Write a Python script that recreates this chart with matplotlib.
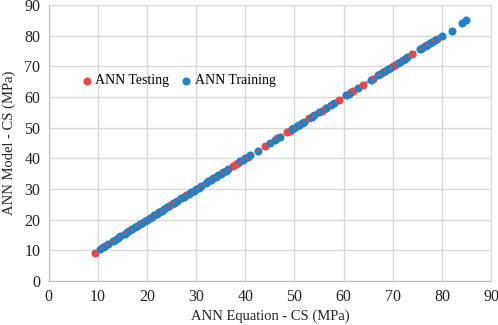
import numpy as np
import matplotlib
matplotlib.use("Agg")
import matplotlib.pyplot as plt

# ANN Training points (x = ANN Equation, y = ANN Model)
train_x = [10.5, 11, 11.5, 12, 13, 13.5, 14, 14.5, 15.5, 16, 17, 17.5, 18, 18.5, 19,
           19.5, 20, 20.5, 21, 21.5, 22, 22.5, 23, 23.5, 24, 25.5, 26, 27, 27.5, 28.5,
           29, 29.5, 30, 30.5, 31, 32, 32.5, 33, 33.5, 34, 34.5, 35, 35.5, 36, 36.5,
           39, 39.5, 40, 41, 42.5, 45, 46, 47, 49.5, 50, 50.5, 51, 51.5, 52, 53.5,
           54, 55, 56.5, 57.5, 58, 60.5, 61, 63, 65.5, 67, 67.5, 68.5, 69, 69.5, 71,
           71.5, 72, 72.5, 73, 75.5, 76, 77, 77.5, 78, 78.5, 80, 82, 84, 85]
train_y = [10.6, 11.1, 11.6, 12.1, 13.0, 13.5, 14.0, 14.6, 15.5, 16.1, 17.0, 17.5, 18.0,
           18.5, 19.0, 19.5, 20.0, 20.5, 21.0, 21.5, 22.0, 22.5, 23.0, 23.5, 24.0, 25.5,
           26.0, 27.0, 27.5, 28.5, 29.0, 29.5, 30.0, 30.5, 31.0, 32.0, 32.5, 33.0, 33.5,
           34.0, 34.5, 35.0, 35.5, 36.0, 36.5, 39.0, 39.5, 40.0, 41.0, 42.5, 45.0, 46.0,
           47.0, 49.5, 50.0, 50.5, 51.0, 51.5, 52.0, 53.5, 54.0, 55.0, 56.5, 57.5, 58.0,
           60.5, 61.0, 63.0, 65.5, 67.0, 67.5, 68.5, 69.0, 69.5, 71.0, 71.5, 72.0, 72.5,
           73.0, 75.5, 76.0, 77.0, 77.5, 78.0, 78.5, 80.0, 81.6, 84.0, 85.0]

# ANN Testing points
test_x = [9.3, 16.5, 22.5, 24.5, 25, 25.5, 28, 37.5, 38, 38.5, 40.5, 44, 46.5, 48.5,
          49, 49.5, 53, 55.5, 56.5, 59, 61.5, 62, 64, 66, 68, 70, 70.5, 74, 76.5, 77,
          78, 79]
test_y = [9.3, 16.5, 22.5, 24.5, 25.0, 25.5, 28.0, 37.5, 38.0, 38.5, 40.5, 44.0, 46.5,
          48.5, 49.0, 49.5, 53.0, 55.5, 56.5, 59.0, 61.5, 62.0, 64.0, 66.0, 68.0, 70.0,
          70.5, 74.0, 76.5, 77.0, 78.0, 79.0]

ticks = [0, 10, 20, 30, 40, 50, 60, 70, 80, 90]

red = "#E5484A"
blue = "#2280C3"
grid_c = "#d9d9d9"

plt.rcParams["font.family"] = ["Liberation Serif", "DejaVu Serif"]

fig = plt.figure(figsize=(4.98, 3.25), dpi=100)
ax = fig.add_axes([0.098, 0.135, 0.888, 0.85])

ax.scatter(test_x, test_y, s=34, color=red, zorder=3, label="ANN Testing", linewidths=0)
ax.scatter(train_x, train_y, s=34, color=blue, zorder=3, label="ANN Training", linewidths=0)

# dotted linear trendline of the testing series
coef = np.polyfit(test_x, test_y, 1)
tx = np.array([min(test_x), max(test_x)])
ax.plot(tx, np.polyval(coef, tx), linestyle=(0, (1, 2.2)), color=red, lw=1.6, zorder=4)

ax.set_xlim(0, 90)
ax.set_ylim(0, 90)
ax.set_xticks(ticks)
ax.set_yticks(ticks)
ax.tick_params(length=0, labelsize=11.5, pad=6, colors="#222222")
ax.grid(True, color=grid_c, lw=1)
ax.set_axisbelow(True)
for s in ax.spines.values():
    s.set_color(grid_c)
ax.spines["left"].set_color("#bfbfbf")
ax.spines["bottom"].set_color("#bfbfbf")

ax.set_xlabel("ANN Equation - CS (MPa)", fontsize=10.5, color="#222222", labelpad=3)
ax.set_ylabel("ANN Model - CS (MPa)", fontsize=10.5, color="#222222", labelpad=6)

ax.legend(loc="center left", bbox_to_anchor=(0.04, 0.725), ncol=2, frameon=False,
          fontsize=10, handletextpad=0.05, columnspacing=0.7, markerscale=1.0,
          handlelength=1.1)

fig.savefig("out.png", dpi=100)
